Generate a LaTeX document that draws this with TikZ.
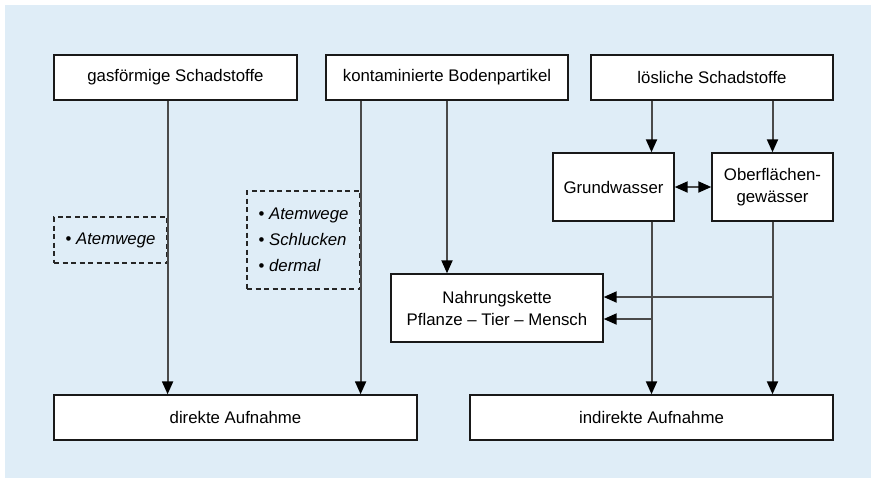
\documentclass[tikz,border=0pt]{standalone}
\usepackage{fontspec}
\setmainfont{Liberation Sans}
\usetikzlibrary{arrows.meta}
\definecolor{bgblue}{HTML}{DFEDF7}
\definecolor{linegray}{HTML}{4A4A4A}

\begin{document}
\begin{tikzpicture}[
    x=1pt, y=-1pt,
    >={Triangle[length=13pt,width=11pt,color=black]},
    every node/.style={font=\fontsize{16.8}{22}\selectfont, inner sep=0pt},
    box/.style={draw=black!90, fill=white, line width=1.4pt},
    dashbox/.style={draw=black!85, dash pattern=on 5pt off 3.5pt, line width=1.2pt, align=left},
    link/.style={draw=linegray, line width=2pt}
]

% Background
\fill[bgblue] (5,5) rectangle (871,478);
\useasboundingbox (0,0) rectangle (876,483);

% Nodes
\node[box, minimum width=243pt, minimum height=45pt] (gas) at (175.5,77.5) {gasförmige Schadstoffe};
\node[box, minimum width=242pt, minimum height=45pt] (kont) at (447,77.5) {kontaminierte Bodenpartikel};
\node[box, minimum width=242pt, minimum height=45pt] (loes) at (712,77.5) {lösliche Schadstoffe};
\node[box, minimum width=121pt, minimum height=68pt] (grund) at (613.5,187) {Grundwasser};
\node[box, minimum width=121pt, minimum height=68pt, align=center] (ober) at (772.5,187) {Oberflächen-\\gewässer};
\node[box, minimum width=212pt, minimum height=68pt, align=center] (nahrung) at (497,308) {Nahrungskette\\Pflanze -- Tier -- Mensch};
\node[box, minimum width=363pt, minimum height=45pt] (direkt) at (235.5,417.5) {direkte Aufnahme};
\node[box, minimum width=363pt, minimum height=45pt] (indirekt) at (651.5,417.5) {indirekte Aufnahme};

% Exposure paths
\node[dashbox, minimum width=113pt, minimum height=46pt] (wege1) at (110.5,240) {\textbullet\ \textit{Atemwege}};
\node[dashbox, minimum width=113pt, minimum height=98pt, font=\fontsize{16.8}{26}\selectfont] (wege2) at (303.5,240) {\textbullet\ \textit{Atemwege}\\\textbullet\ \textit{Schlucken}\\\textbullet\ \textit{dermal}};

% Branch points
\coordinate (oberast) at (ober.south |- 297,297);
\coordinate (grundast) at (indirekt.north |- 319,319);

% Arrows
\draw[link, ->] (gas.south -| wege1.east) -- (direkt.north -| wege1.east);
\draw[link, ->] (kont.south -| wege2.east) -- (direkt.north -| wege2.east);
\draw[link, ->] (kont.south) -- (nahrung.north -| kont.south);
\draw[link, ->] (loes.south -| indirekt.north) -- (grund.north -| indirekt.north);
\draw[link, ->] (loes.south -| ober.north) -- (ober.north);
\draw[link, <->] (grund.east) -- (ober.west);
\draw[link, ->] (grund.south -| indirekt.north) -- (indirekt.north);
\draw[link, ->] (ober.south) -- (indirekt.north -| ober.south);
\draw[link, ->] (oberast) -- (nahrung.east |- oberast);
\draw[link, ->] (grundast) -- (nahrung.east |- grundast);

\end{tikzpicture}
\end{document}
